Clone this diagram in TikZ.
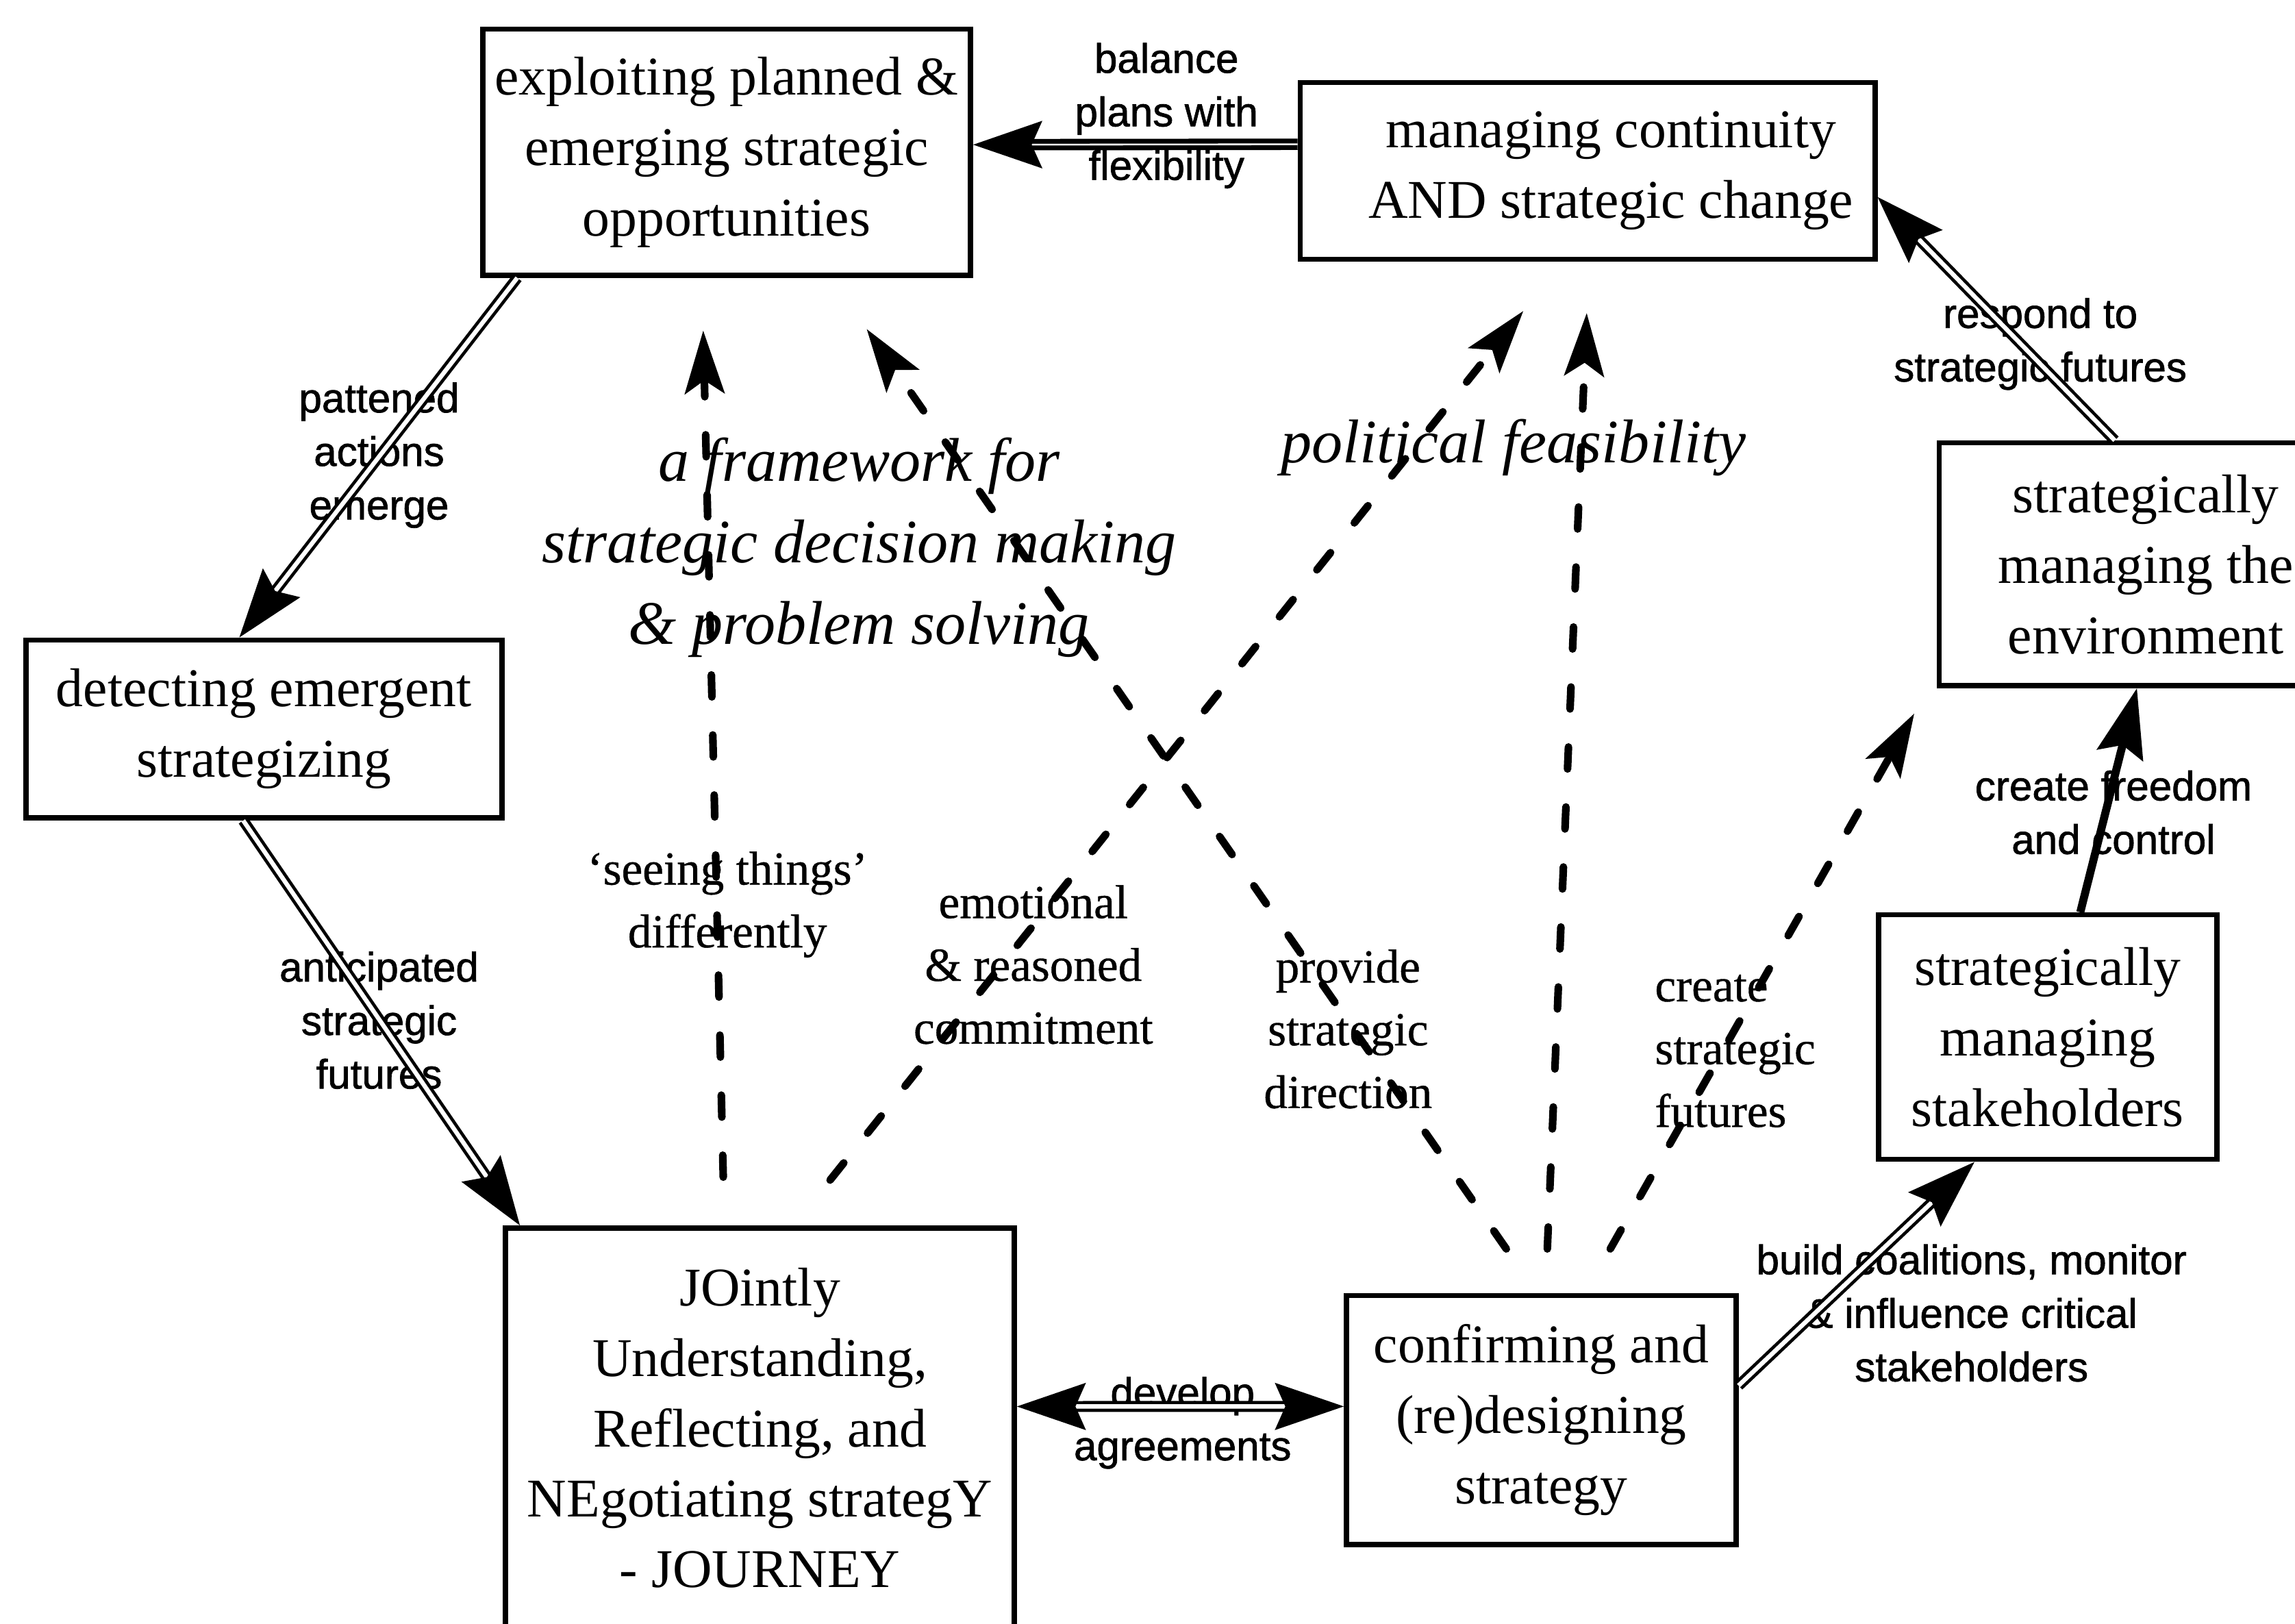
\documentclass[tikz,border=0pt]{standalone}
\usepackage{fontspec}
\setmainfont{Liberation Serif}
\newfontfamily\labelsans[FakeBold=1.2]{Liberation Sans}
\newfontfamily\noteserif[FakeBold=0.6,Ligatures=TeX]{Liberation Serif}
\usetikzlibrary{arrows.meta,calc}

\begin{document}
\begin{tikzpicture}[x=0.01cm,y=-0.01cm,
  box/.style={draw, line width=0.035cm, inner sep=0pt, align=center,
    font=\fontsize{10.6}{13.7}\selectfont},
  flow/.style={draw, line width=0.022cm, double=white, double distance=0.03cm},
  heavyflow/.style={draw, line width=0.033cm, double=white, double distance=0.012cm},
  plainflow/.style={draw, line width=0.055cm},
  dashline/.style={draw, line width=0.052cm, line cap=round,
    dash pattern=on 0.15cm off 0.26cm},
  bigtip/.tip={Stealth[length=0.47cm,width=0.32cm,inset=0.07cm]},
  smalltip/.tip={Stealth[length=0.43cm,width=0.27cm,inset=0.09cm]},
  flowlabel/.style={inner sep=0pt, align=center,
    font=\labelsans\fontsize{8}{10.4}\selectfont},
  notelabel/.style={inner sep=0pt, align=center,
    font=\noteserif\fontsize{9.2}{12.2}\selectfont},
  themelabel/.style={inner sep=0pt, align=center,
    font=\itshape\fontsize{12}{15.8}\selectfont},
]
\useasboundingbox (0,0) rectangle (1568,1109);
\fill[white] (0,0) rectangle (1568,1109);
\clip (0,0) rectangle (1568,1109);

% ---- activity boxes ----
\node[box, minimum width=3.33cm, minimum height=1.68cm] (A) at (496.5,104)
  {exploiting planned \&\\emerging strategic\\opportunities};
\node[box, minimum width=3.925cm, minimum height=1.207cm] (B) at (1084.7,116.7)
  {\hspace*{0.32cm}managing continuity\\\hspace*{0.32cm}AND strategic change};
\node[box, minimum width=2.82cm, minimum height=1.657cm] (C) at (1466,385.5)
  {strategically\\managing the\\environment};
\node[box, minimum width=3.25cm, minimum height=1.215cm] (D) at (180.3,498)
  {detecting emergent\\strategizing};
\node[box, minimum width=2.31cm, minimum height=1.67cm] (E) at (1399,708.5)
  {strategically\\managing\\stakeholders};
\node[box, minimum width=3.474cm, minimum height=2.73cm] (F) at (519.2,975.5)
  {JOintly\\Understanding,\\Reflecting, and\\NEgotiating strategY\\- JOURNEY};
\node[box, minimum width=2.66cm, minimum height=1.70cm] (G) at (1053,970)
  {confirming and\\(re)designing\\strategy};

% ---- labels on the main cycle ----
\node[flowlabel] (lBA) at (797,79) {balance\\plans with\\flexibility};
\node[flowlabel] (lAD) at (259,311) {pattened\\actions\\emerge};
\node[flowlabel] (lDF) at (259,697) {anticipated\\strategic\\futures};
\node[flowlabel] (lFG) at (808,972) {develop\\agreements};
\node[flowlabel] (lGE) at (1347,897) {build coalitions, monitor\\\& influence critical\\stakeholders};
\node[flowlabel] (lEC) at (1444,555) {create freedom\\and control};
\node[flowlabel] (lCB) at (1394,235) {respond to\\strategic futures};

% ---- labels on the dashed links ----
\node[notelabel] (lSee) at (497,618) {‘seeing things’\\differently};
\node[notelabel] (lEmo) at (706,659) {emotional\\\& reasoned\\commitment};
\node[notelabel] (lDir) at (921,703) {provide\\strategic\\direction};
\node[notelabel, anchor=west, align=left] (lFut) at (1130,718) {create\\strategic\\futures};

% ---- themes ----
\node[themelabel] (tFrame) at (587,374)
  {a framework for\\strategic decision making\\\& problem solving};
\node[themelabel] (tPol) at (1034,306) {political feasibility};

% ---- main cycle connectors ----
\draw[heavyflow, -bigtip] ($(B.north west)!0.354!(B.south west)$) -- ($(A.north east)!0.47!(A.south east)$);
\draw[flow, -bigtip] ($(A.south west)!0.075!(A.south east)$) -- ($(D.north west)!0.449!(D.north east)$);
\draw[flow, -bigtip] ($(D.south west)!0.457!(D.south east)$) -- ($(F.north west)!0.033!(F.north east)$);
\draw[flow, bigtip-bigtip] ($(F.north east)!0.447!(F.south east)$) -- ($(G.north west)!0.447!(G.south west)$);
\draw[flow, -bigtip] ($(G.north east)!0.365!(G.south east)$) -- ($(E.south west)!0.287!(E.south east)$);
\draw[plainflow, -bigtip] ($(E.north west)!0.595!(E.north east)$) -- ($(C.south west)!0.479!(C.south east)$);
\draw[flow, -bigtip] ($(C.north west)!0.426!(C.north east)$) -- ($(B.north east)!0.644!(B.south east)$);

% ---- dashed links ----
\coordinate (fv0) at ($(F.north west)+(150.5,-33)$);
\coordinate (fv1) at ($(A.south west)+(152.3,36)$);
\coordinate (fd0) at ($(F.north west)+(223.5,-31)$);
\coordinate (fd1) at ($(B.south west)+(154.2,33.6)$);
\coordinate (gd0) at ($(G.north west)+(111,-30)$);
\coordinate (gd1) at ($(A.south west)+(264,35)$);
\coordinate (gv0) at ($(G.north west)+(139,-30)$);
\coordinate (gv1) at ($(B.south west)+(197.5,35)$);
\coordinate (gc0) at ($(G.north west)+(182,-30)$);
\coordinate (gc1) at ($(C.south west)+(-15.3,17.3)$);

\draw[dashline, -smalltip] (fv0) -- (fv1);
\draw[dashline, -smalltip] (fd0) -- (fd1);
\draw[dashline, -smalltip] (gd0) -- (gd1);
\draw[dashline, -smalltip] (gv0) -- (gv1);
\draw[dashline, -smalltip] (gc0) -- (gc1);
\end{tikzpicture}
\end{document}
